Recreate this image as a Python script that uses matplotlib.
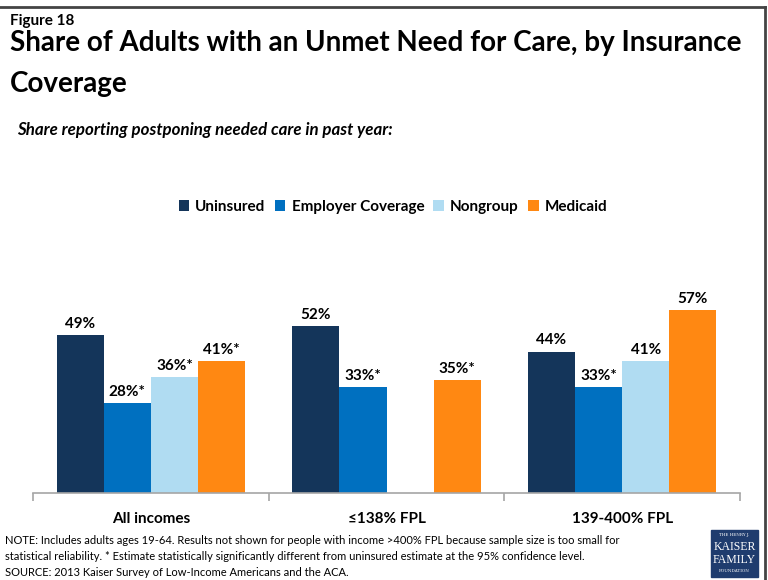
import matplotlib.pyplot as plt
import numpy as np
from matplotlib.patches import Rectangle

plt.rcParams['font.family'] = ['Lato', 'DejaVu Sans']

# income groups and coverage types
groups = ['All incomes', '\u2264138% FPL', '139-400% FPL']
series = ['Uninsured', 'Employer Coverage', 'Nongroup', 'Medicaid']
colors = ['#14355a', '#0070c0', '#b0dcf2', '#ff8812']

uninsured = [49, 52, 44]
employer = [28, 33, 33]
nongroup = [36, None, 41]   # not shown for <=138% FPL
medicaid = [41, 35, 57]

labels_uninsured = ['49%', '52%', '44%']
labels_employer = ['28%*', '33%*', '33%*']
labels_nongroup = ['36%*', '', '41%']
labels_medicaid = ['41%*', '35%*', '57%']

values = [uninsured, employer, nongroup, medicaid]
labels = [labels_uninsured, labels_employer, labels_nongroup, labels_medicaid]

W, H = 768, 580
fig = plt.figure(figsize=(W / 100, H / 100), dpi=100)

ax = fig.add_axes([33 / W, 1 - 493 / H, (740 - 33) / W, 209 / H])
x = np.arange(len(groups))
width = 0.2
offsets = [-0.3, -0.1, 0.1, 0.3]

for vals, labs, col, off, name in zip(values, labels, colors, offsets, series):
    xs = [xi + off for xi, v in zip(x, vals) if v is not None]
    hs = [v for v in vals if v is not None]
    ls = [l for v, l in zip(vals, labs) if v is not None]
    bars = ax.bar(xs, hs, width, color=col, label=name, linewidth=0)
    for b, l in zip(bars, ls):
        ax.text(b.get_x() + b.get_width() / 2, b.get_height() + 1.3, l,
                ha='center', va='bottom', fontsize=11, fontweight='bold')

ax.set_xlim(-0.5, 2.5)
ax.set_ylim(0, 65)
ax.set_yticks([])
for s in ['top', 'right', 'left']:
    ax.spines[s].set_visible(False)
ax.spines['bottom'].set_color('#a6a6a6')
ax.spines['bottom'].set_linewidth(1.2)
ax.set_xticks([-0.5, 0.5, 1.5, 2.5])
ax.set_xticklabels([])
ax.tick_params(axis='x', length=6, color='#a6a6a6', width=1.2)
for xi, g in zip(x, groups):
    ax.text(xi, -6.0, g, ha='center', va='top', fontsize=11, fontweight='bold')

fig.legend(loc='center', bbox_to_anchor=(393 / W, 1 - 207 / H), ncol=4,
           frameon=False, handlelength=0.7, handleheight=0.7,
           handletextpad=0.4, columnspacing=0.6,
           prop={'size': 11, 'weight': 'bold'})

# titles
fig.text(10 / W, 1 - 21 / H, 'Figure 18', fontsize=11, fontweight='bold', va='center')
fig.text(10 / W, 1 - 51 / H, 'Share of Adults with an Unmet Need for Care, by Insurance',
         fontsize=20, fontweight='bold', va='baseline')
fig.text(10 / W, 1 - 92 / H, 'Coverage', fontsize=20, fontweight='bold', va='baseline')
fig.text(17 / W, 1 - 130 / H, 'Share reporting postponing needed care in past year:',
         fontsize=12.2, fontweight='bold', style='italic', va='center')

# notes
notes = ['NOTE: Includes adults ages 19-64. Results not shown for people with income >400% FPL because sample size is too small for',
         'statistical reliability. * Estimate statistically significantly different from uninsured estimate at the 95% confidence level.',
         'SOURCE: 2013 Kaiser Survey of Low-Income Americans and the ACA.']
for i, n in enumerate(notes):
    fig.text(5 / W, 1 - (541 + 16 * i) / H, n, fontsize=8.0, va='center')

# border lines
fig.add_artist(plt.Line2D([0, 765 / W], [1 - 7 / H, 1 - 7 / H], color='#444444', lw=2))
fig.add_artist(plt.Line2D([765 / W, 765 / W], [0, 1 - 7 / H], color='#444444', lw=2))

# foundation logo
fig.add_artist(Rectangle((711 / W, 1 - 577 / H), 47 / W, 47 / H,
                         transform=fig.transFigure, color='#1f3c6e'))
fig.text(734.5 / W, 1 - 535 / H, 'THE HENRY J.', color='white', fontsize=3,
         ha='center', va='center', family='DejaVu Serif')
fig.text(734.5 / W, 1 - 547 / H, 'KAISER', color='white', fontsize=8.5,
         ha='center', va='center', family='Liberation Serif')
fig.text(734.5 / W, 1 - 560 / H, 'FAMILY', color='white', fontsize=8.5,
         ha='center', va='center', family='Liberation Serif')
fig.text(734.5 / W, 1 - 571 / H, 'FOUNDATION', color='white', fontsize=3,
         ha='center', va='center', family='DejaVu Serif')

fig.savefig('out.png', dpi=100)
